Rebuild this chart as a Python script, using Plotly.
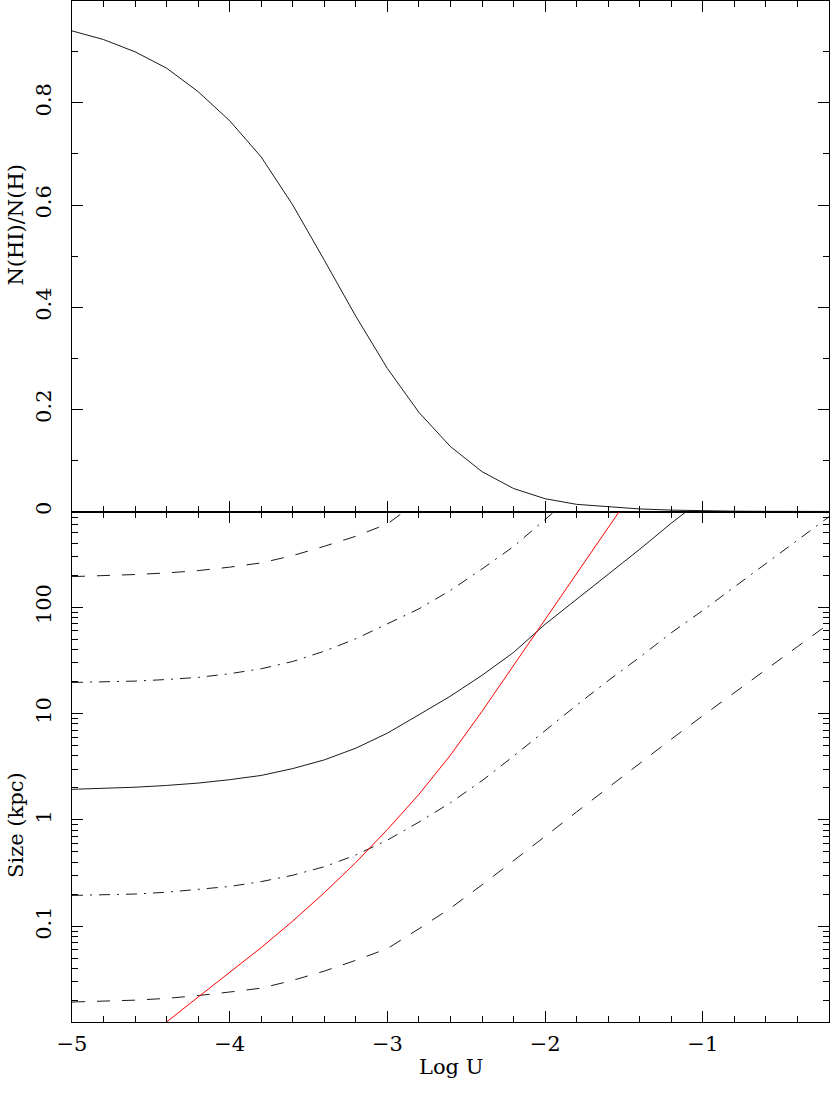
import plotly.graph_objects as go
from plotly.subplots import make_subplots

# ---------------- data ----------------
log_u = [-5.0, -4.8, -4.6, -4.4, -4.2, -4.0, -3.8, -3.6, -3.4, -3.2, -3.0, -2.8, -2.6,
         -2.4, -2.2, -2.0, -1.8, -1.6, -1.4, -1.2, -1.0, -0.8, -0.6, -0.4, -0.2]

# top panel: neutral fraction N(HI)/N(H)
hi_frac = [0.941, 0.924, 0.900, 0.868, 0.822, 0.765, 0.694, 0.600, 0.492, 0.382, 0.280,
           0.194, 0.127, 0.078, 0.045, 0.025, 0.014, 0.009, 0.005, 0.0027, 0.0013,
           0.0006, 0.0003, 0.0002, 0.0001]

# bottom panel: sizes (kpc)
size_dash_hi = [194, 197, 203, 210, 221, 238, 261, 306, 374, 465, 608, 1000]            # log U -5 .. -2.8
size_dashdot_hi = [19.6, 19.9, 20.2, 20.9, 21.9, 23.7, 26.4, 30.9, 38.6, 50.5, 69.8,
                   96.6, 144, 229, 372, 676, 1202]                                         # log U -5 .. -1.8
size_solid = [1.94, 1.98, 2.03, 2.11, 2.22, 2.39, 2.62, 3.04, 3.67, 4.73, 6.55, 9.75,
              14.6, 22.9, 37.6, 69.2, 120, 204, 351, 617, 1047]                            # log U -5 .. -1.0
size_dashdot_lo = [0.195, 0.197, 0.201, 0.209, 0.221, 0.237, 0.263, 0.302, 0.363, 0.468,
                   0.646, 0.955, 1.45, 2.34, 3.98, 6.92, 12.0, 20.4, 33.9, 57.5, 93.3,
                   155, 257, 427, 708]                                                     # log U -5 .. -0.2
size_dash_lo = [0.0194, 0.0198, 0.0202, 0.0210, 0.0223, 0.0241, 0.0262, 0.0310, 0.0379,
                0.0479, 0.0617, 0.0948, 0.148, 0.245, 0.412, 0.700, 1.19, 2.02, 3.43,
                5.75, 9.55, 15.8, 26.0, 42.6, 70.0]                                        # log U -5 .. -0.2
log_u_red = [-4.6, -4.4, -4.2, -4.0, -3.8, -3.6, -3.4, -3.2, -3.0, -2.8, -2.6, -2.4, -2.2,
             -2.0, -1.8, -1.6, -1.4]
size_red = [0.00676, 0.0126, 0.0216, 0.0367, 0.0631, 0.112, 0.207, 0.398, 0.813, 1.74,
            4.07, 10.5, 28.2, 77.6, 209, 562, 1514]

# axis ticks
x_tick0, x_dtick, x_minor_dtick = -5, 1, 0.2
top_tick0, top_dtick, top_minor_dtick = 0, 0.2, 0.1

# ---------------- figure ----------------
FONT = "DejaVu Serif"
BLACK = "#1a1a1a"
fig = make_subplots(rows=2, cols=1, shared_xaxes=True, vertical_spacing=0)

fig.add_trace(go.Scatter(x=log_u, y=hi_frac, mode="lines",
                         line=dict(color=BLACK, width=1)), row=1, col=1)

dash_long = "13px,12px"
dash_dot = "11px,7px,2px,7px"
fig.add_trace(go.Scatter(x=log_u[:len(size_dash_hi)], y=size_dash_hi, mode="lines",
                         line=dict(color=BLACK, width=1, dash=dash_long)), row=2, col=1)
fig.add_trace(go.Scatter(x=log_u[:len(size_dashdot_hi)], y=size_dashdot_hi, mode="lines",
                         line=dict(color=BLACK, width=1, dash=dash_dot)), row=2, col=1)
fig.add_trace(go.Scatter(x=log_u[:len(size_solid)], y=size_solid, mode="lines",
                         line=dict(color=BLACK, width=1)), row=2, col=1)
fig.add_trace(go.Scatter(x=log_u[:len(size_dashdot_lo)], y=size_dashdot_lo, mode="lines",
                         line=dict(color=BLACK, width=1, dash=dash_dot)), row=2, col=1)
fig.add_trace(go.Scatter(x=log_u[:len(size_dash_lo)], y=size_dash_lo, mode="lines",
                         line=dict(color=BLACK, width=1, dash=dash_long)), row=2, col=1)
fig.add_trace(go.Scatter(x=log_u_red, y=size_red, mode="lines",
                         line=dict(color="#ff0000", width=1)), row=2, col=1)

axis_common = dict(showline=True, linecolor="black", linewidth=1, mirror="allticks",
                   ticks="inside", ticklen=11, tickcolor="black", tickwidth=1,
                   showgrid=False, zeroline=False, automargin=False,
                   tickfont=dict(family=FONT, size=21, color="black"))

fig.update_xaxes(range=[-5, -0.2], tickmode="linear", tick0=x_tick0, dtick=x_dtick,
                 minor=dict(ticks="inside", ticklen=6, tickcolor="black", tickwidth=1,
                            tick0=x_tick0, dtick=x_minor_dtick, showgrid=False),
                 ticklabelstandoff=3, **axis_common)
fig.update_xaxes(showticklabels=False, row=1, col=1)

fig.update_yaxes(range=[0, 0.9995], tickmode="linear", tick0=top_tick0, dtick=top_dtick,
                 tickangle=-90, ticklabelstandoff=12,
                 minor=dict(ticks="inside", ticklen=6, tickcolor="black", tickwidth=1,
                            tick0=top_tick0, dtick=top_minor_dtick, showgrid=False),
                 row=1, col=1, **axis_common)
fig.update_yaxes(type="log", range=[-1.9, 2.9], tickmode="linear", tick0=0, dtick=1,
                 tickangle=-90, ticklabelstandoff=12,
                 minor=dict(ticks="inside", ticklen=6, tickcolor="black", tickwidth=1,
                            dtick="D1", showgrid=False),
                 row=2, col=1, **axis_common)

title_font = dict(family=FONT, size=21, color="black")
fig.add_annotation(text="N(HI)/N(H)", xref="paper", yref="paper", x=-0.074, y=0.781,
                   textangle=-90, showarrow=False, font=title_font,
                   xanchor="center", yanchor="middle")
fig.add_annotation(text="Size (kpc)", xref="paper", yref="paper", x=-0.074, y=0.193,
                   textangle=-90, showarrow=False, font=title_font,
                   xanchor="center", yanchor="middle")
fig.add_annotation(text="Log U", xref="paper", yref="paper", x=0.5, y=-0.044,
                   showarrow=False, font=title_font, xanchor="center", yanchor="middle")

fig.update_layout(width=830, height=1104, margin=dict(l=72, r=1, t=1, b=82, autoexpand=False),
                  plot_bgcolor="white", paper_bgcolor="white", showlegend=False)

fig.write_html("out.html", config={"displayModeBar": False},
               post_script="document.body.style.margin='0';")
